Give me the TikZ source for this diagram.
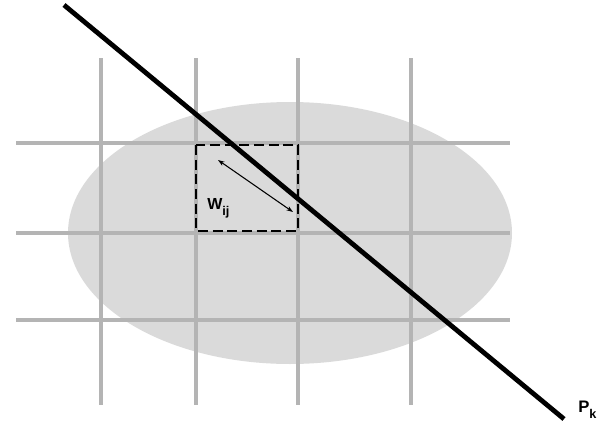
\documentclass[tikz,border=0pt]{standalone}
\usepackage{fontspec}
\setmainfont{Liberation Sans}
\usetikzlibrary{arrows.meta}
\definecolor{gridgray}{RGB}{180,180,180}
\definecolor{blobgray}{RGB}{218,218,218}
\newcommand{\lowsub}[1]{\raisebox{-5pt}{\fontsize{9.5}{10}\selectfont #1}}

\begin{document}
\begin{tikzpicture}[x=0.75pt,y=-0.75pt,
  gridline/.style={gridgray,line width=2.4pt},
  cellbox/.style={line width=2.2pt,dash pattern=on 7.5pt off 3.5pt},
  lbl/.style={font=\fontsize{12}{14}\selectfont\bfseries,inner sep=0pt,anchor=base west}]
  \useasboundingbox (0,0) rectangle (597,429);
  % grey region
  \fill[blobgray] (290,233) ellipse [x radius=222, y radius=131];
  % grid
  \foreach \x in {101,196,298,411}
    \draw[gridline] (\x,58) -- (\x,405);
  \foreach \y in {143,233,320}
    \draw[gridline] (16,\y) -- (510,\y);
  % cell and its width
  \draw[cellbox] (196,145) rectangle (298,231);
  \coordinate (wa) at (218,160);
  \coordinate (wb) at (293,212);
  \draw[line width=0.8pt,{Stealth[length=5pt,width=3.5pt]}-{Stealth[length=5pt,width=3.5pt]}] (wa) -- (wb);
  \node[lbl] (wij) at (207,209) {W\lowsub{ij}};
  % path
  \coordinate (ptop) at (64,5);
  \coordinate (pbot) at (564,419);
  \draw[line width=3.6pt] (ptop) -- (pbot);
  \node[lbl,font=\fontsize{12.5}{14}\selectfont\bfseries] (pk) at (578,412) {P\lowsub{k}};
\end{tikzpicture}
\end{document}
